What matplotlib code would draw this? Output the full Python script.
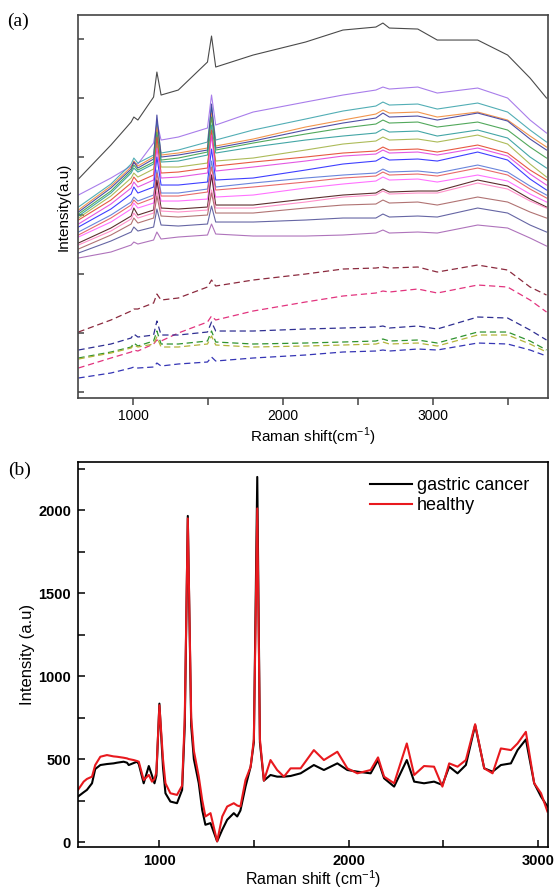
import matplotlib
matplotlib.use("Agg")
import matplotlib.pyplot as plt
from matplotlib.ticker import FixedLocator, MultipleLocator, NullFormatter

plt.rcParams['font.family'] = ['Liberation Sans', 'DejaVu Sans']
plt.rcParams['mathtext.fontset'] = 'custom'
plt.rcParams['mathtext.rm'] = 'Liberation Sans'

# ---------------- panel (a): individual spectra ----------------
raman_a = [633, 850, 985, 1003, 1030, 1135, 1157, 1185, 1300, 1495, 1522, 1550,
           1800, 2150, 2400, 2620, 2667, 2710, 2900, 3030, 3300, 3500, 3650, 3760]

top_black = [213, 247, 270, 275, 272, 295, 320, 297, 302, 330, 356, 325,
             337, 350, 362, 365, 369, 364, 363, 352, 352, 337, 314, 294]

solid_spectra = [
    [197, 214, 226, 229, 228, 249, 270, 252, 255, 264, 297, 267, 280, 290, 297, 302, 305, 303, 305, 299, 304, 294, 272, 259],
    [185, 208, 228, 234, 229, 237, 269, 239, 242, 250, 285, 252, 262, 273, 281, 286, 290, 287, 288, 283, 289, 280, 262, 250],
    [182, 206, 225, 231, 226, 235, 265, 237, 239, 244, 279, 246, 253, 265, 272, 278, 282, 279, 280, 275, 280, 272, 256, 245],
    [180, 204, 223, 230, 224, 233, 277, 235, 237, 242, 288, 244, 251, 262, 269, 274, 279, 275, 276, 272, 279, 271, 253, 242],
    [178, 201, 221, 227, 222, 230, 260, 232, 234, 240, 275, 242, 249, 258, 264, 268, 272, 269, 270, 265, 270, 262, 245, 234],
    [176, 199, 219, 224, 220, 228, 256, 230, 231, 237, 267, 239, 245, 252, 256, 259, 263, 260, 261, 256, 262, 254, 235, 224],
    [174, 196, 214, 219, 215, 223, 248, 225, 225, 229, 259, 231, 234, 242, 248, 251, 255, 252, 253, 250, 257, 248, 228, 215],
    [172, 192, 209, 215, 210, 217, 255, 219, 220, 224, 262, 226, 230, 235, 239, 241, 245, 242, 243, 240, 247, 239, 222, 212],
    [168, 188, 204, 210, 205, 212, 244, 214, 215, 219, 257, 221, 225, 231, 236, 238, 242, 239, 240, 237, 244, 236, 218, 207],
    [165, 183, 198, 205, 199, 205, 235, 207, 207, 210, 243, 212, 214, 222, 228, 231, 235, 232, 233, 231, 240, 232, 213, 202],
    [160, 177, 190, 195, 191, 197, 222, 199, 199, 203, 231, 205, 209, 214, 217, 219, 223, 220, 221, 219, 227, 220, 206, 197],
    [157, 174, 187, 192, 188, 194, 219, 196, 196, 200, 225, 202, 205, 210, 214, 216, 220, 217, 218, 216, 224, 217, 203, 194],
    [155, 170, 183, 189, 184, 189, 211, 191, 191, 193, 218, 195, 197, 204, 208, 211, 215, 212, 213, 210, 217, 211, 198, 190],
    [149, 164, 176, 184, 177, 182, 212, 184, 183, 185, 217, 187, 187, 193, 197, 199, 203, 200, 201, 201, 212, 206, 193, 185],
    [147, 161, 173, 179, 174, 179, 201, 181, 180, 182, 202, 184, 184, 190, 195, 197, 201, 198, 199, 199, 209, 203, 191, 184],
    [143, 157, 168, 174, 169, 174, 196, 176, 175, 177, 199, 179, 179, 184, 187, 188, 192, 189, 190, 187, 195, 190, 180, 174],
    [139, 151, 160, 165, 161, 165, 183, 167, 166, 168, 186, 170, 170, 172, 174, 174, 178, 175, 176, 175, 184, 179, 167, 160],
    [134, 140, 147, 150, 148, 152, 160, 153, 155, 157, 168, 158, 156, 156, 157, 159, 162, 159, 160, 159, 167, 164, 154, 146],
]
solid_colors = ['#9f6fe8', '#3fa5ad', '#f08a3a', '#3c3c9c', '#3f9f4a', '#2f9c9c',
                '#a4b447', '#e4472f', '#e046e0', '#2a2aff', '#5a78d8', '#e65a5a',
                '#ff62ff', '#4a1818', '#ff85c4', '#a86464', '#55559a', '#a664b4']

dashed_spectra = [
    [60, 72, 81, 83, 83, 89, 98, 92, 94, 105, 112, 106, 112, 118, 123, 124, 125, 124, 125, 120, 127, 122, 105, 97],
    [24, 34, 40, 42, 41, 48, 52, 51, 59, 70, 76, 72, 81, 90, 96, 99, 101, 100, 103, 99, 107, 105, 92, 80],
    [42, 48, 54, 58, 55, 57, 71, 57, 57, 60, 70, 61, 61, 63, 64, 65, 66, 64, 66, 63, 75, 74, 62, 52],
    [34, 40, 45, 49, 46, 51, 61, 48, 48, 51, 61, 50, 48, 49, 50, 51, 53, 51, 52, 49, 60, 60, 51, 42],
    [33, 39, 44, 47, 45, 48, 55, 45, 45, 48, 56, 47, 45, 46, 47, 48, 50, 48, 49, 46, 57, 57, 48, 40],
    [14, 19, 24, 25, 24, 25, 29, 26, 28, 30, 35, 31, 34, 37, 40, 41, 42, 41, 43, 42, 49, 48, 42, 36],
]
dashed_colors = ['#8b2a3e', '#e2347e', '#2f2f92', '#2f932f', '#b4b43a', '#3535b5']

# ---------------- panel (b): mean spectra ----------------
raman_b = [570, 600, 617, 644, 661, 688, 723, 758, 776, 811, 829, 838, 864, 882, 891,
           917, 944, 961, 974, 984, 1000, 1019, 1032, 1058, 1093, 1120, 1134, 1150,
           1168, 1182, 1208, 1226, 1243, 1270, 1305, 1332, 1358, 1393, 1411, 1428,
           1455, 1482, 1499, 1517, 1531, 1552, 1587, 1622, 1658, 1693, 1746, 1816,
           1869, 1940, 1993, 2046, 2116, 2155, 2187, 2240, 2307, 2346, 2398, 2451,
           2495, 2531, 2575, 2619, 2668, 2716, 2760, 2804, 2857, 2892, 2936, 2980,
           3016, 3050]

cancer = [274, 300, 314, 354, 440, 464, 470, 474, 478, 484, 478, 464, 476, 484, 470,
          354, 458, 400, 354, 400, 834, 450, 294, 244, 234, 314, 700, 1965,
          700, 500, 354, 194, 104, 114, 4, 74, 134, 174, 154, 190,
          334, 454, 600, 2200, 600, 370, 404, 394, 394, 398, 414, 464,
          434, 474, 434, 424, 414, 494, 384, 334, 494, 364, 354, 364,
          344, 454, 414, 464, 704, 444, 424, 464, 474, 554, 618, 354,
          274, 214]

healthy = [314, 364, 380, 394, 464, 514, 524, 516, 514, 508, 504, 500, 494, 488, 484,
           374, 404, 364, 380, 420, 824, 500, 354, 294, 284, 340, 750, 1950,
           750, 550, 394, 254, 154, 174, 4, 154, 214, 234, 220, 214,
           374, 454, 620, 2010, 620, 370, 494, 434, 394, 444, 444, 554,
           494, 544, 444, 414, 434, 510, 394, 354, 594, 404, 458, 454,
           334, 474, 454, 494, 710, 444, 414, 564, 554, 594, 664, 354,
           294, 184]

fig = plt.figure(figsize=(5.54, 8.90), dpi=100)
ax1 = fig.add_axes([0.1408, 0.5528, 0.8484, 0.4303])
ax2 = fig.add_axes([0.1408, 0.0483, 0.8484, 0.4326])

# panel (a)
ax1.plot(raman_a, top_black, color='#4a4a4a', lw=0.8)
for spec, col in zip(solid_spectra, solid_colors):
    ax1.plot(raman_a, spec, color=col, lw=0.8, alpha=0.9)
for spec, col in zip(dashed_spectra, dashed_colors):
    ax1.plot(raman_a, spec, color=col, lw=0.9, ls=(0, (5, 3)))

ax1.set_xlim(630, 3770)
ax1.set_ylim(-6, 377)
ax1.xaxis.set_major_locator(FixedLocator([1000, 2000, 3000]))
ax1.xaxis.set_minor_locator(FixedLocator([1500, 2500, 3500]))
ax1.yaxis.set_major_locator(FixedLocator([0, 59, 118, 177, 235, 294, 353]))
ax1.yaxis.set_major_formatter(NullFormatter())
ax1.tick_params(axis='x', which='both', direction='out', length=5, width=1.1,
                labelsize=10, pad=3, color='#444444')
ax1.tick_params(axis='y', which='both', direction='in', length=4, width=1.1,
                color='#444444')
for sp in ax1.spines.values():
    sp.set_color('#444444')
    sp.set_linewidth(1.2)
ax1.set_xlabel('Raman shift(cm$^{-1}$)', fontsize=11, labelpad=2)
ax1.set_ylabel('Intensity(a.u)', fontsize=11, labelpad=2)

# panel (b)
ax2.plot(raman_b, cancer, color='black', lw=1.5, label='gastric cancer')
ax2.plot(raman_b, healthy, color='#e8191e', lw=1.5, label='healthy')
ax2.set_xlim(570, 3053)
ax2.set_ylim(-30, 2290)
ax2.xaxis.set_major_locator(MultipleLocator(1000))
ax2.xaxis.set_minor_locator(MultipleLocator(500))
ax2.yaxis.set_major_locator(MultipleLocator(500))
ax2.yaxis.set_minor_locator(MultipleLocator(250))
ax2.tick_params(which='both', direction='in', length=5, width=1.1, labelsize=10.5, pad=5)
for lab in ax2.get_xticklabels() + ax2.get_yticklabels():
    lab.set_fontweight('bold')
for sp in ax2.spines.values():
    sp.set_linewidth(1.2)
ax2.set_xlabel('Raman shift (cm$^{-1}$)', fontsize=11.5, labelpad=0)
ax2.set_ylabel('Intensity (a.u)', fontsize=12, labelpad=2)
ax2.legend(loc='upper right', bbox_to_anchor=(0.96, 0.96), frameon=False,
           fontsize=13, handlelength=2.3, handletextpad=0.3, labelspacing=0.15,
           borderpad=0, borderaxespad=0)

fig.text(0.012, 0.976, '(a)', family='Liberation Serif', fontsize=14, va='center')
fig.text(0.015, 0.471, '(b)', family='Liberation Serif', fontsize=14, va='center')

fig.savefig('out.png', dpi=100)
